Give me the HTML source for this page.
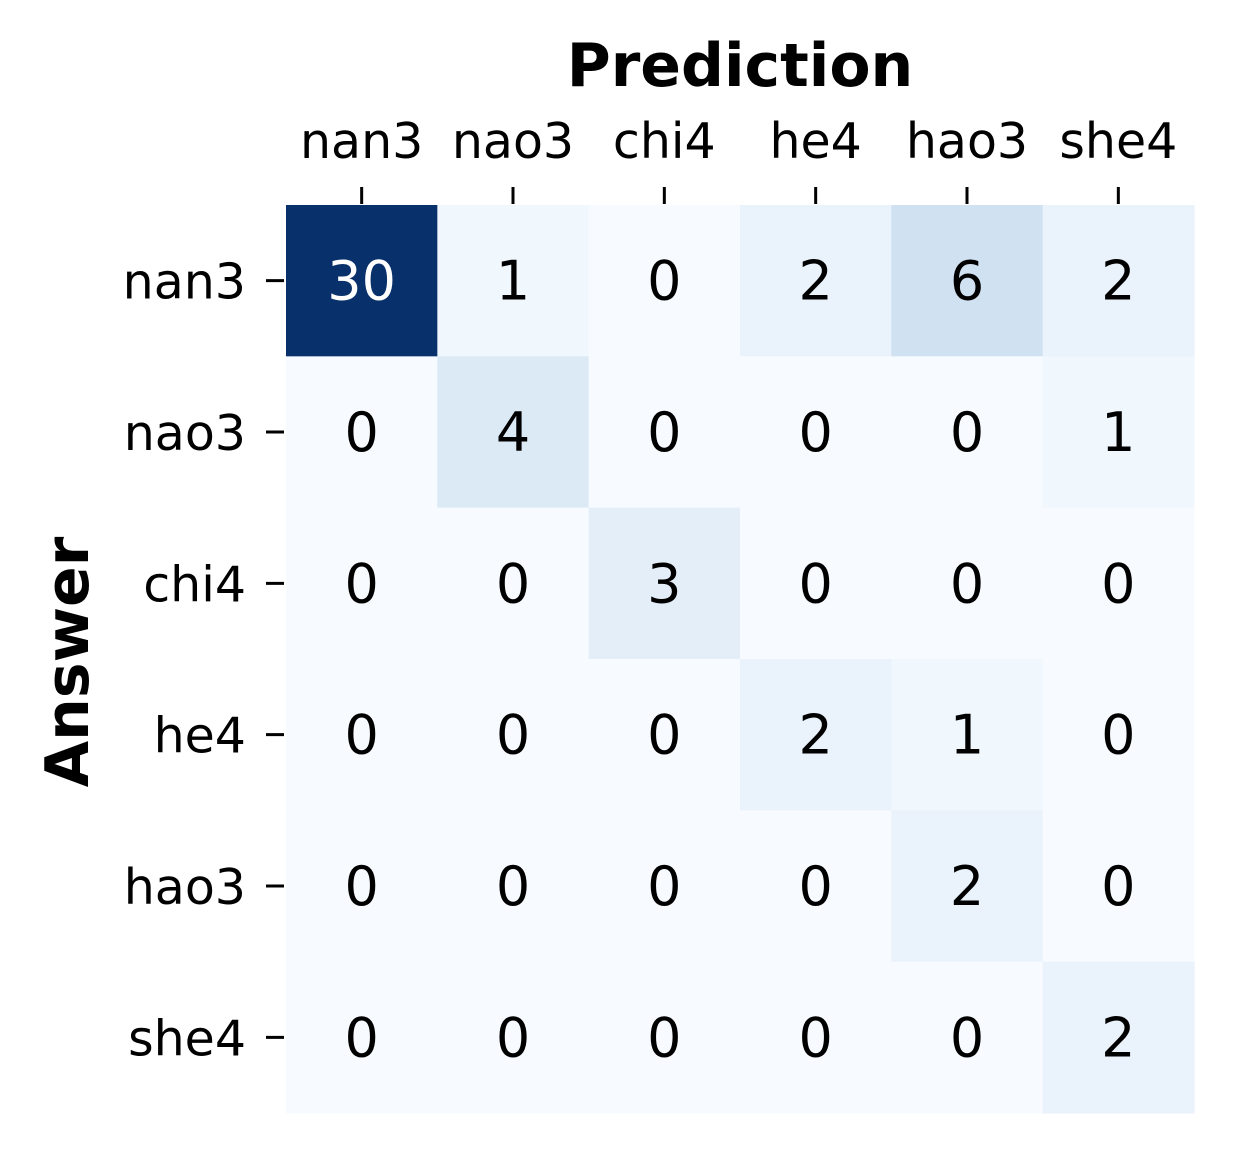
<!DOCTYPE html>
<html><head><meta charset="utf-8"><style>
html,body{margin:0;padding:0;background:#fff;}
svg{display:block;font-family:"DejaVu Sans","Liberation Sans",sans-serif;}
</style></head><body>
<svg id="chart" width="1233" height="1154" viewBox="0 0 1233 1154">
<g id="cells"></g><g id="xt"></g><g id="yt"></g>
<text x="740" y="86" text-anchor="middle" font-size="60" font-weight="bold">Prediction</text>
<text transform="translate(88,662) rotate(-90)" text-anchor="middle" font-size="60" font-weight="bold">Answer</text>
</svg>
<script>
const labels = ["nan3","nao3","chi4","he4","hao3","she4"];
const row0 = [30,1,0,2,6,2];
const row1 = [0,4,0,0,0,1];
const row2 = [0,0,3,0,0,0];
const row3 = [0,0,0,2,1,0];
const row4 = [0,0,0,0,2,0];
const row5 = [0,0,0,0,0,2];
const matrix = [row0,row1,row2,row3,row4,row5];
const vmax = 30;
const stops = ["#f7fbff","#deebf7","#c6dbef","#9ecae1","#6baed6","#4292c6","#2171b5","#08519c","#08306b"];
function hex(c){return [1,3,5].map(i=>parseInt(c.substr(i,2),16));}
function color(v){
  const t=Math.max(0,Math.min(1,v/vmax))*8; const i=Math.min(7,Math.floor(t)); const f=t-i;
  const a=hex(stops[i]), b=hex(stops[i+1]);
  return "rgb("+a.map((x,k)=>Math.round(x+(b[k]-x)*f)).join(",")+")";
}
const x0=286,y0=205,size=908,n=labels.length,cw=size/n;
const xs=i=>x0+i*cw, ys=i=>y0+i*cw;
const NS="http://www.w3.org/2000/svg";
const cells=document.getElementById('cells'), xt=document.getElementById('xt'), yt=document.getElementById('yt');
function mk(tag,attrs,parent,text){const e=document.createElementNS(NS,tag);for(const k in attrs)e.setAttribute(k,attrs[k]);if(text!==undefined)e.textContent=text;parent.appendChild(e);return e;}
matrix.forEach((row,r)=>row.forEach((v,c)=>{
  const rect=mk('rect',{x:xs(c),y:ys(r),width:cw+0.5,height:cw+0.5,fill:color(v)},cells);
  
  
  const t=mk('text',{x:xs(c)+cw/2,y:ys(r)+cw/2+19,'text-anchor':'middle','font-size':54,fill:v/vmax>0.5?'#fff':'#000'},cells,String(v));
  
  
}));
labels.forEach((l,i)=>{
  const cx=xs(i)+cw/2;
  const tk=mk('line',{x1:cx,x2:cx,y1:187,y2:204,stroke:'#000','stroke-width':3},xt);
  
  
  const tl=mk('text',{x:cx,y:158,'text-anchor':'middle','font-size':49},xt,l);
  
  
  const cy=ys(i)+cw/2;
  const yk=mk('line',{x1:266,x2:284,y1:cy,y2:cy,stroke:'#000','stroke-width':3},yt);
  
  
  const yl=mk('text',{x:246,y:cy+18,'text-anchor':'end','font-size':49},yt,l);
  
  
});
</script>
</body></html>
